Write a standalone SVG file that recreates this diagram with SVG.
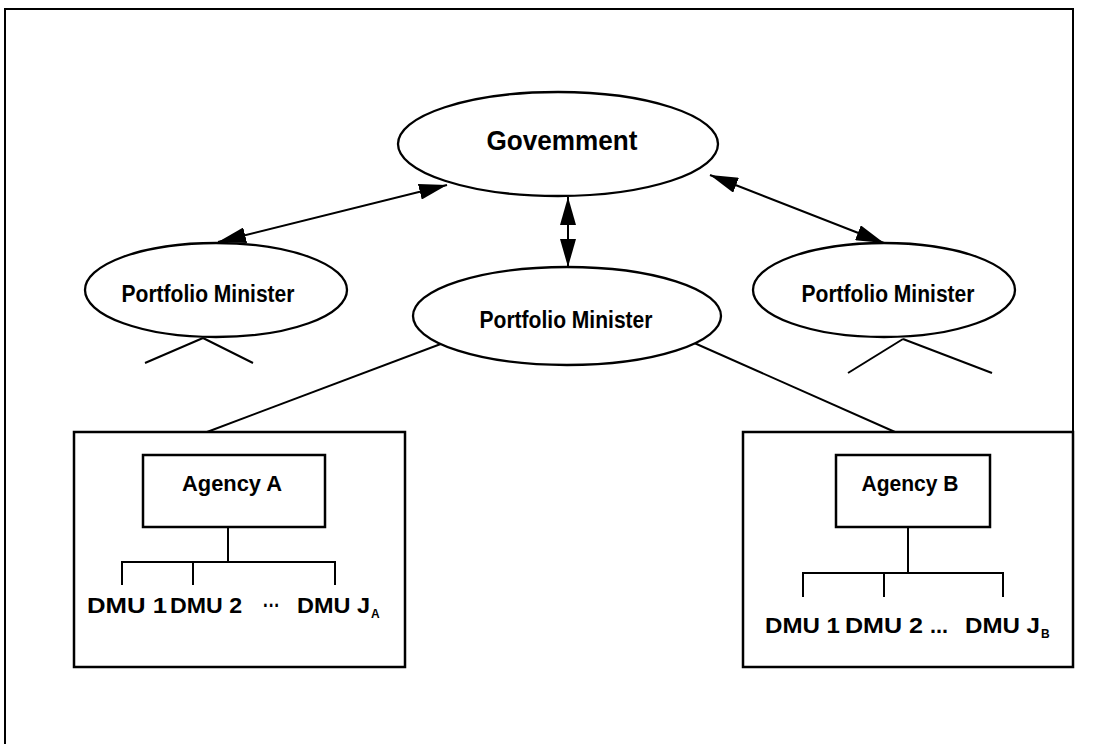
<svg xmlns="http://www.w3.org/2000/svg" width="1094" height="744" viewBox="0 0 1094 744">
<style>
.ln{stroke:#000;stroke-width:2;fill:none}
.bx{stroke:#000;stroke-width:2.5;fill:#fff}
.el{stroke:#000;stroke-width:2.3;fill:#fff}
text{font-family:"Liberation Sans",Arial,sans-serif;font-weight:bold;fill:#000}
.c{text-anchor:middle}
</style>
<defs>
<marker id="ah" viewBox="0 0 28 16" refX="28" refY="8" markerWidth="28" markerHeight="16" markerUnits="userSpaceOnUse" orient="auto-start-reverse">
<path d="M0,0 L28,8 L0,16 z" fill="#000"/>
</marker>
</defs>
<rect width="1094" height="744" fill="#fff"/>
<path d="M5,744 V9 H1073 V667" class="ln" stroke-width="2.5"/>
<g id="connectors">
<line x1="218" y1="242" x2="447" y2="185" class="ln" marker-start="url(#ah)" marker-end="url(#ah)"/>
<line x1="710" y1="175" x2="884" y2="243" class="ln" marker-start="url(#ah)" marker-end="url(#ah)"/>
<line x1="568" y1="197" x2="568" y2="267" class="ln" stroke-width="2.5" marker-start="url(#ah)" marker-end="url(#ah)"/>
<line x1="462" y1="336" x2="207" y2="432" class="ln"/>
<line x1="683" y1="338" x2="895" y2="432" class="ln"/>
<line x1="203" y1="338" x2="145" y2="363" class="ln"/>
<line x1="203" y1="338" x2="253" y2="363" class="ln"/>
<line x1="903" y1="339" x2="848" y2="373" class="ln"/>
<line x1="903" y1="339" x2="992" y2="373" class="ln"/>
</g>
<g id="government">
<ellipse cx="558" cy="144" rx="160" ry="52" class="el"/>
<text x="562" y="150" class="c" font-size="28" textLength="151" lengthAdjust="spacingAndGlyphs">Govemment</text>
</g>
<g id="pm-left">
<ellipse cx="216" cy="290" rx="131" ry="47" class="el"/>
<text x="208" y="302" class="c" font-size="23" textLength="173" lengthAdjust="spacingAndGlyphs">Portfolio Minister</text>
</g>
<g id="pm-center">
<ellipse cx="567" cy="316" rx="154" ry="49" class="el"/>
<text x="566" y="328" class="c" font-size="23" textLength="173" lengthAdjust="spacingAndGlyphs">Portfolio Minister</text>
</g>
<g id="pm-right">
<ellipse cx="884" cy="290" rx="131" ry="47" class="el"/>
<text x="888" y="302" class="c" font-size="23" textLength="173" lengthAdjust="spacingAndGlyphs">Portfolio Minister</text>
</g>
<g id="agency-a-group">
<rect x="74" y="432" width="331" height="235" class="bx"/>
<rect x="143" y="455" width="182" height="72" class="bx"/>
<text x="232" y="491" class="c" font-size="22" textLength="100" lengthAdjust="spacingAndGlyphs">Agency A</text>
<path d="M228,527 V562 M122,585 V562 H335 V585 M193,562 V585" class="ln" stroke-width="2.5"/>
<text x="87" y="613" font-size="22" textLength="80" lengthAdjust="spacingAndGlyphs">DMU 1</text>
<text x="170" y="613" font-size="22" textLength="72" lengthAdjust="spacingAndGlyphs">DMU 2</text>
<text x="263" y="613" font-size="22" textLength="17" lengthAdjust="spacingAndGlyphs">···</text>
<text x="297" y="613" font-size="22" textLength="73" lengthAdjust="spacingAndGlyphs">DMU J</text>
<text x="371" y="618" font-size="12">A</text>
</g>
<g id="agency-b-group">
<rect x="743" y="432" width="330" height="235" class="bx"/>
<rect x="836" y="455" width="154" height="72" class="bx"/>
<text x="910" y="491" class="c" font-size="22" textLength="97" lengthAdjust="spacingAndGlyphs">Agency B</text>
<path d="M908,527 V573 M803,597 V573 H1003 V597 M884,573 V597" class="ln" stroke-width="2.5"/>
<text x="765" y="633" font-size="22" textLength="75" lengthAdjust="spacingAndGlyphs">DMU 1</text>
<text x="845" y="633" font-size="22" textLength="78" lengthAdjust="spacingAndGlyphs">DMU 2</text>
<text x="930" y="633" font-size="22" textLength="18" lengthAdjust="spacingAndGlyphs">...</text>
<text x="965" y="633" font-size="22" textLength="75" lengthAdjust="spacingAndGlyphs">DMU J</text>
<text x="1041" y="638" font-size="12">B</text>
</g>
</svg>
